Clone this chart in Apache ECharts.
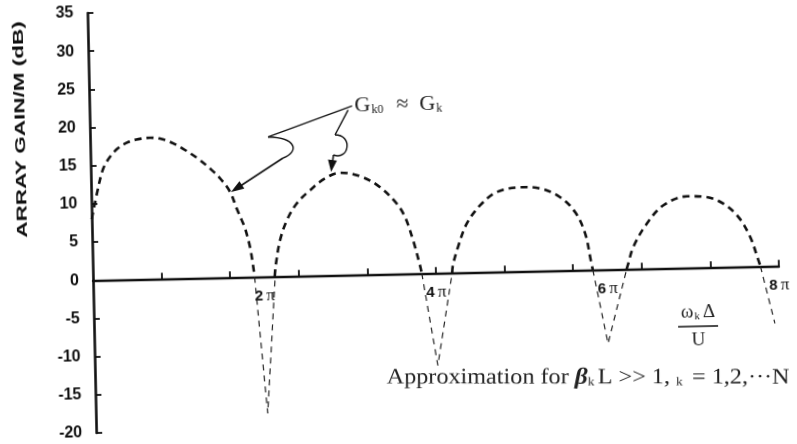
<!DOCTYPE html>
<html>
<head>
<meta charset="utf-8">
<script src="https://cdn.jsdelivr.net/npm/echarts@6/dist/echarts.min.js"></script>
<style>
  html, body { margin: 0; padding: 0; background: #fff; overflow: hidden; }
  #chart {
    width: 797px; height: 444px;
    /* the printed plot sits slightly tilted on its page */
    transform: rotate(-1.2deg);
    transform-origin: 93px 280px;
  }
</style>
</head>
<body>
<div id="chart"></div>
<script>
// x values are in units of pi (omega_k * Delta / U), y values in dB
const lobe1 = [[0.0, 8.0], [0.085, 12.2], [0.147, 14.6], [0.228, 16.1], [0.327, 17.25],
  [0.446, 18.0], [0.563, 18.35], [0.70, 18.5], [0.836, 18.3], [0.97, 17.7], [1.105, 16.8],
  [1.258, 15.6], [1.392, 14.3], [1.506, 13.0], [1.62, 11.2], [1.693, 9.0], [1.749, 7.45],
  [1.785, 6.4], [1.839, 3.9], [1.872, 1.3], [1.885, 0]];
const lobe2 = [[2.12, 0], [2.135, 1.5], [2.19, 4.7], [2.274, 7.3], [2.394, 9.5], [2.553, 11.2],
  [2.73, 12.7], [2.907, 13.4], [3.159, 12.8], [3.37, 11.4], [3.56, 9.2], [3.654, 7.4],
  [3.741, 4.4], [3.815, 1.1], [3.835, 0]];
const lobe3 = [[4.19, 0], [4.2, 1.0], [4.265, 3.4], [4.372, 6.4], [4.532, 8.75], [4.73, 10.45],
  [5.023, 11.0], [5.235, 10.8], [5.466, 9.6], [5.638, 7.6], [5.749, 4.8], [5.809, 1.25], [5.83, 0]];
const lobe4 = [[6.225, 0], [6.239, 0.5], [6.309, 2.9], [6.471, 5.9], [6.669, 8.25], [6.944, 9.36],
  [7.177, 9.2], [7.369, 8.3], [7.541, 6.5], [7.672, 3.9], [7.763, 0.8], [7.785, 0]];

// approximation for beta_k L >> 1 near each null
const null1 = [[1.885, 0], [2.005, -17.9], [2.125, 0]];
const null2 = [[3.835, 0], [4.0, -12.1], [4.19, 0]];
const null3 = [[5.83, 0], [5.99, -9.7], [6.225, 0]];
const null4 = [[7.785, 0], [7.94, -7.5]];

const xTickValues = [0.8, 1.6, 2.4, 3.2, 4.0, 4.8, 5.6, 6.4, 7.2, 8.0];
const xLabelValues = [2, 4, 6, 8];

const INK = '#111';
const GRID = { left: 93, right: 18, top: 13, bottom: 11 };
const chart = echarts.init(document.getElementById('chart'), null, { renderer: 'canvas' });

function curve(data) {
  return {
    type: 'line', data: data, showSymbol: false, smooth: 0.35, silent: true,
    lineStyle: { color: INK, width: 2.6, type: [7, 5] }
  };
}
function approx(data) {
  return {
    type: 'line', data: data, showSymbol: false, smooth: false, silent: true,
    lineStyle: { color: '#222', width: 1.2, type: [6, 5] }
  };
}

// arrowhead polygon pointing at (tx, ty) coming from (fx, fy)
function arrowHead(fx, fy, tx, ty, len, half) {
  const dx = tx - fx, dy = ty - fy, l = Math.hypot(dx, dy);
  const ux = dx / l, uy = dy / l;
  const bx = tx - ux * len, by = ty - uy * len;
  return {
    type: 'polygon',
    shape: { points: [[tx, ty], [bx - uy * half, by + ux * half], [bx + uy * half, by - ux * half]] },
    style: { fill: INK }
  };
}
function stroke(points, w) {
  return { type: 'polyline', shape: { points: points }, style: { stroke: INK, lineWidth: w || 1.4, fill: null } };
}

const serif = '"Liberation Serif", "DejaVu Serif", serif';
const sans = '"Liberation Sans", Arial, sans-serif';

chart.setOption({
  animation: false,
  backgroundColor: '#fff',
  grid: Object.assign({ outerBoundsMode: 'none', containLabel: false }, GRID),
  xAxis: {
    type: 'value', min: 0, max: 8,
    axisLine: { onZero: false, lineStyle: { color: INK, width: 2.4 } },
    axisTick: { inside: true, length: 6, customValues: xTickValues, lineStyle: { color: INK, width: 1.8 } },
    splitLine: { show: false },
    axisLabel: {
      customValues: xLabelValues, margin: 11,
      formatter: v => '{n|' + v + '}{p|π}',
      rich: {
        n: { fontFamily: sans, fontWeight: 'bold', fontSize: 15, color: INK, padding: [0, 3, 0, 0] },
        p: { fontFamily: serif, fontSize: 17, color: INK }
      }
    }
  },
  yAxis: {
    type: 'value', min: -20, max: 35, interval: 5,
    axisLine: { show: true, lineStyle: { color: INK, width: 2.6 } },
    axisTick: { show: true, inside: true, length: 6, lineStyle: { color: INK, width: 1.8 } },
    splitLine: { show: false },
    axisLabel: { margin: 14, fontFamily: sans, fontWeight: 'bold', fontSize: 16, color: INK }
  },
  series: [
    curve(lobe1), curve(lobe2), curve(lobe3), curve(lobe4),
    approx(null1), approx(null2), approx(null3), approx(null4)
  ],
  graphic: [
    {
      type: 'text', x: 24, y: 128, rotation: Math.PI / 2, scaleX: 1.5,
      style: { text: 'ARRAY GAIN/M (dB)', font: 'bold 15px ' + sans, fill: INK, align: 'center', verticalAlign: 'middle' }
    },
    {
      type: 'text', x: 358, y: 111,
      style: {
        text: '{g|G}{s|k0}{g|  ≈  G}{s|k}',
        align: 'left', verticalAlign: 'middle',
        rich: {
          g: { fontFamily: serif, fontSize: 22, fill: '#222' },
          s: { fontFamily: serif, fontSize: 12, fill: '#222', padding: [10, 2, 0, 1] }
        }
      }
    },
    // leader to the first lobe
    stroke([[355.7, 111.4], [271, 140.7]]),
    { type: 'bezierCurve', shape: { x1: 271, y1: 140.7, cpx1: 300, cpy1: 142, cpx2: 302, cpy2: 156, x2: 285.6, y2: 162 }, style: { stroke: INK, lineWidth: 1.4, fill: null } },
    stroke([[285.6, 162], [236, 193]], 1.6),
    arrowHead(285.6, 162, 232.8, 194.9, 13, 4.5),
    // leader to the second lobe
    stroke([[351.6, 115.4], [338, 140]]),
    { type: 'bezierCurve', shape: { x1: 338, y1: 140, cpx1: 356, cpy1: 140, cpx2: 352, cpy2: 166, x2: 336, y2: 160 }, style: { stroke: INK, lineWidth: 1.4, fill: null } },
    stroke([[336, 160], [334, 174]], 1.6),
    arrowHead(337, 150, 333.3, 177, 12, 4.5),
    // abscissa label as a fraction
    {
      type: 'text', x: 697, y: 325,
      style: {
        text: '{w|ω}{s|k}{w|Δ}', align: 'center', verticalAlign: 'middle',
        rich: {
          w: { fontFamily: serif, fontSize: 19, fill: '#222' },
          s: { fontFamily: serif, fontSize: 11, fill: '#222', padding: [8, 3, 0, 1] }
        }
      }
    },
    stroke([[677, 339], [717, 339]], 1.5),
    {
      type: 'text', x: 697, y: 353,
      style: { text: 'U', font: '19px ' + serif, fill: '#222', align: 'center', verticalAlign: 'middle' }
    },
    {
      type: 'text', x: 586, y: 388, rotation: -0.021, scaleX: 1.1,
      style: {
        text: '{t|Approximation for }{b|β}{s|k}{t|L >> 1, }{s|k}{t| = 1,2,···N}',
        align: 'center', verticalAlign: 'middle',
        rich: {
          t: { fontFamily: serif, fontSize: 22, fill: '#222' },
          b: { fontFamily: serif, fontSize: 23, fontStyle: 'italic', fontWeight: 'bold', fill: '#222' },
          s: { fontFamily: serif, fontSize: 12, fill: '#222', padding: [9, 3, 0, 0] }
        }
      }
    }
  ]
});

// place the abscissa on the zero line of the gain axis
const zeroY = chart.convertToPixel({ yAxisIndex: 0 }, 0);
const gridBottomY = chart.getHeight() - GRID.bottom;
chart.setOption({ xAxis: { offset: zeroY - gridBottomY } });
</script>
</body>
</html>
